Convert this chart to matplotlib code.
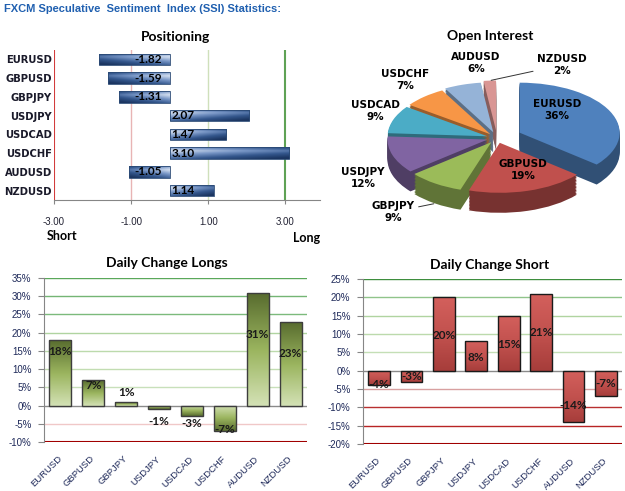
import numpy as np
import matplotlib
matplotlib.use('Agg')
import matplotlib.pyplot as plt
from matplotlib.colors import LinearSegmentedColormap, to_rgb

# Data
pairs = ['EURUSD', 'GBPUSD', 'GBPJPY', 'USDJPY', 'USDCAD', 'USDCHF', 'AUDUSD', 'NZDUSD']
positioning = [-1.82, -1.59, -1.31, 2.07, 1.47, 3.10, -1.05, 1.14]
openInterest = [36, 19, 9, 12, 9, 7, 6, 2]
changeLongs = [18, 7, 1, -1, -3, -7, 31, 23]
changeShort = [-4, -3, 20, 8, 15, 21, -14, -7]

posTicks = [-3, -1, 1, 3]
longsTicks = list(range(-10, 40, 5))
shortTicks = list(range(-20, 30, 5))

# Styling
W, H = 625, 491
NAVY = '#1f2a5a'
TICKFONT = 'Liberation Sans'
posLineColors = ['#d23c3c', '#e8b4b4', '#cfe0bb', '#5fa255']
longsGridColors = ['#a00000', '#f0c8c8', '#8a8a8a', '#c8e0ba', '#c2ddb2',
                   '#bcdaac', '#b0d4a0', '#7cba7c', '#74b574', '#5aa85a']
shortGridColors = ['#a00000', '#b82424', '#b83030', '#d8a0a0', '#8a8a8a',
                   '#c4dfb6', '#bcdaac', '#b0d4a0', '#90c48a', '#3e8e3e']
longsLabelY = [14.7, 5.6, 3.5, -4.3, -4.8, -6.5, 19.4, 14.3]
shortLabelY = [-3.9, -1.6, 9.7, 3.7, 7.0, 10.3, -9.6, -3.6]
pieColors = ['#4f81bd', '#c0504d', '#9bbb59', '#8064a2',
             '#4bacc6', '#f79646', '#95b3d7', '#d99694']
pieExplode = [0.25, 0.1, 0.1, 0.1, 0.1, 0.1, 0.12, 0.15]
pieLabelXY = [(0.60, 0.56), (0.26, -0.64), (-1.04, -1.48), (-1.34, -0.80),
              (-1.22, 0.54), (-0.92, 1.16), (-0.21, 1.50), (0.65, 1.46)]
# leader lines: None, 'top' (to top face) or 'side' (to bottom of side wall)
pieLeader = [None, None, 'side', None, None, None, None, 'top']

blueMap = LinearSegmentedColormap.from_list('b', ['#d6e1f1', '#7896c6', '#34578d', '#1b3560'])
greenMap = LinearSegmentedColormap.from_list('g', ['#dde9c4', '#9bb55f', '#4f6228'])
redMap = LinearSegmentedColormap.from_list('r', ['#e06a66', '#c0504d', '#8e2b29'])


def pxRect(left, top, right, bottom):
    """Axes rectangle from pixel edges of the 625x491 canvas"""
    return [left / W, 1 - bottom / H, (right - left) / W, (bottom - top) / H]


def shadeBar(ax, bar, cmap, darkness):
    """Fills a bar with a gradient image clipped to the bar"""
    bb = bar.get_bbox()
    x0, x1 = sorted([bb.x0, bb.x1])
    y0, y1 = sorted([bb.y0, bb.y1])
    im = ax.imshow(darkness, cmap=cmap, vmin=0, vmax=1, extent=[x0, x1, y0, y1],
                   origin='lower', aspect='auto', interpolation='bilinear',
                   zorder=bar.get_zorder() - 0.5)
    im.set_clip_path(bar)


def plotPositioning(fig):
    ax = fig.add_axes(pxRect(54, 50, 320, 200))
    bars = ax.barh(range(len(pairs)), positioning, height=0.62, color='none',
                   edgecolor='#2b4a75', linewidth=0.6, zorder=3)
    s = np.linspace(0, 1, 24)
    v = np.interp(s, [0, 0.3, 1], [0.45, 0.0, 0.9])
    for bar, val in zip(bars, positioning):
        t = np.linspace(0, 1, 60)
        h = t if val > 0 else 1 - t
        shadeBar(ax, bar, blueMap, np.clip(v[:, None] * 0.65 + h[None, :] * 0.5, 0, 1))
        yc = bar.get_y() + bar.get_height() / 2
        if val > 0:
            ax.text(0.04, yc, f'{val:.2f}', ha='left', va='center', fontsize=8.5,
                    fontweight='bold', family='Lato', zorder=5)
        else:
            ax.text(-0.19, yc, f'{val:.2f}', ha='right', va='center', fontsize=8.5,
                    fontweight='bold', family='Lato', zorder=5)
    for x, c in zip(posTicks, posLineColors):
        ax.axvline(x, color=c, lw=1.5 if abs(x) == 3 else 1, zorder=1)
    ax.set_xlim(-3, 3.9)
    ax.set_ylim(len(pairs) - 0.5, -0.5)
    for side in ['top', 'right', 'left']:
        ax.spines[side].set_visible(False)
    ax.spines['bottom'].set_color('#868686')
    ax.set_xticks(posTicks, labels=[f'{t:.2f}' for t in posTicks], family=TICKFONT)
    ax.set_yticks(range(len(pairs)), labels=pairs, fontweight='bold')
    ax.tick_params(axis='x', length=3, color='#868686', pad=9, labelsize=7, labelcolor='#222233')
    ax.tick_params(axis='y', length=0, pad=1.5, labelsize=7.2, labelcolor='#1a1a2a')
    fig.text(175 / W, 1 - 37 / H, 'Positioning', ha='center', va='center',
             fontsize=10, fontweight='bold', family='Lato')
    fig.text(62 / W, 1 - 236 / H, 'Short', ha='center', va='center',
             fontsize=9, fontweight='bold', family='Lato')
    fig.text(307 / W, 1 - 238 / H, 'Long', ha='center', va='center',
             fontsize=9, fontweight='bold', family='Lato')


def plotPie(fig):
    ax = fig.add_axes(pxRect(355, 45, 625, 235))
    depth = 0.4
    nLayers = 14
    sideColors = [tuple(c * 0.62 for c in to_rgb(col)) for col in pieColors]
    for k in range(nLayers):
        ax.pie(openInterest, explode=pieExplode, colors=sideColors, startangle=90,
               counterclock=False, center=(0, -depth * (1 - k / nLayers)),
               wedgeprops=dict(linewidth=0))
    wedges, _ = ax.pie(openInterest, explode=pieExplode, colors=pieColors, startangle=90,
                       counterclock=False, wedgeprops=dict(linewidth=0))
    for w, name, val, xy, lead in zip(wedges, pairs, openInterest, pieLabelXY, pieLeader):
        label = f'{name}\n{val}%'
        if lead:
            mid = np.deg2rad((w.theta1 + w.theta2) / 2)
            cx, cy = w.center
            tip = (cx + np.cos(mid), cy + np.sin(mid) - (depth if lead == 'side' else 0))
            ax.annotate(label, xy=tip, xytext=xy, ha='center', va='center',
                        fontsize=7.5, fontweight='bold', linespacing=1.3,
                        arrowprops=dict(arrowstyle='-', color='#333333', lw=0.7,
                                        shrinkA=1, shrinkB=1))
        else:
            ax.text(xy[0], xy[1], label, ha='center', va='center',
                    fontsize=7.5, fontweight='bold', linespacing=1.3)
    ax.set_aspect('auto')
    ax.set_xlim(-1.42, 1.28)
    ax.set_ylim(-1.94, 1.86)
    ax.axis('off')
    fig.text(490 / W, 1 - 36 / H, 'Open Interest', ha='center', va='center',
             fontsize=10, fontweight='bold', family='Lato')


def plotChange(fig, rect, values, ticks, gridColors, labelY, cmap, edge, title, titleXY, mode):
    ax = fig.add_axes(pxRect(*rect))
    bars = ax.bar(range(len(pairs)), values, width=0.67, color='none', edgecolor=edge,
                  linewidth=1, zorder=3)
    s = np.linspace(0, 1, 40)
    for bar, val in zip(bars, values):
        if mode == 'far':
            h = s if val > 0 else 1 - s
            d = 0.08 + 0.85 * h
        else:
            d = 0.75 - 0.55 * s
        shadeBar(ax, bar, cmap, np.repeat(d[:, None], 4, axis=1))
    for x, val, ly in zip(range(len(pairs)), values, labelY):
        ax.text(x, ly, f'{val}%', ha='center', va='center', fontsize=8.5,
                fontweight='bold', family='Lato', color='#1a1a1a', zorder=5)
    for t, c in zip(ticks, gridColors):
        ax.axhline(t, color=c, lw=1.5 if t == ticks[0] else 1, zorder=1)
    ax.set_xlim(-0.5, len(pairs) - 0.5)
    ax.set_ylim(ticks[0], ticks[-1])
    for side in ['top', 'right', 'bottom']:
        ax.spines[side].set_visible(False)
    ax.spines['left'].set_color('#868686')
    ax.set_yticks(ticks, labels=[f'{t}%' for t in ticks], family=TICKFONT)
    ax.set_xticks(range(len(pairs)), labels=pairs, rotation=45, ha='right',
                  va='center', rotation_mode='anchor', family=TICKFONT)
    ax.tick_params(axis='y', length=4, color='#868686', pad=5, labelsize=7, labelcolor=NAVY)
    ax.tick_params(axis='x', length=0, pad=11, labelsize=6.8, labelcolor=NAVY)
    fig.text(titleXY[0] / W, 1 - titleXY[1] / H, title, ha='center', va='center',
             fontsize=10, fontweight='bold', family='Lato')


fig = plt.figure(figsize=(W / 100, H / 100), dpi=100, facecolor='white')
fig.text(4 / W, 1 - 9 / H, 'FXCM Speculative  Sentiment  Index (SSI) Statistics:',
         ha='left', va='center', fontsize=8, fontweight='bold',
         family='Liberation Sans', color='#2060b0')
plotPositioning(fig)
plotPie(fig)
plotChange(fig, (44, 278, 307, 442), changeLongs, longsTicks, longsGridColors, longsLabelY,
           greenMap, '#3d3d3d', 'Daily Change Longs', (167, 263), 'far')
plotChange(fig, (363, 279, 622, 444), changeShort, shortTicks, shortGridColors, shortLabelY,
           redMap, '#1a1a1a', 'Daily Change Short', (490, 265), 'down')
fig.savefig('out.png', dpi=100, facecolor='white')
